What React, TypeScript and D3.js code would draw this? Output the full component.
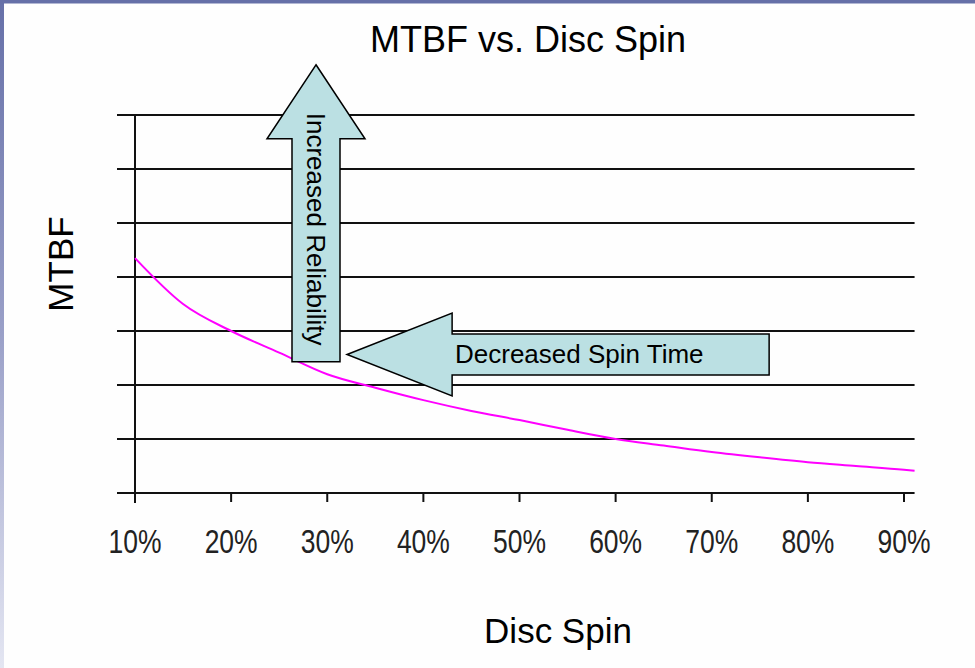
import React from "react";
import * as d3 from "d3";

// ---- data ----
const spinPct: number[] = [10, 15, 20, 25, 30, 35, 40, 45, 50, 55, 60, 65, 70, 75, 80, 85, 90, 91.1];
const mtbf: number[] = [4.35, 3.5, 3.0, 2.6, 2.2, 1.95, 1.72, 1.52, 1.35, 1.17, 1.0, 0.88, 0.76, 0.66, 0.57, 0.5, 0.43, 0.41];
const xTicks: number[] = [10, 20, 30, 40, 50, 60, 70, 80, 90];
const xTickLabels: string[] = ["10%", "20%", "30%", "40%", "50%", "60%", "70%", "80%", "90%"];
const yGrid: number[] = [0, 1, 2, 3, 4, 5, 6, 7];

const title = "MTBF vs. Disc Spin";
const xTitle = "Disc Spin";
const yTitle = "MTBF";
const upText = "Increased Reliability";
const leftText = "Decreased Spin Time";

const W = 975;
const H = 668;
const FONT = "'Liberation Sans', Arial, Helvetica, sans-serif";

export default function App() {
  const x = d3.scaleLinear().domain([10, 90]).range([135, 904]);
  const y = d3.scaleLinear().domain([0, 7]).range([493, 115]);
  const xEnd = x(91.1);
  const xLeft = 117;

  const pts: [number, number][] = spinPct.map((s, i) => [s, mtbf[i]]);
  const line = d3
    .line<[number, number]>()
    .x((d) => x(d[0]))
    .y((d) => y(d[1]))
    .curve(d3.curveMonotoneX);

  // up arrow anchored in data coordinates
  const ua = { cx: x(28.83), tip: y(7.93), head: y(6.56), bottom: y(2.43), headHalf: 49, shaftHalf: 24 };
  const upPath = [
    [ua.cx, ua.tip],
    [ua.cx + ua.headHalf, ua.head],
    [ua.cx + ua.shaftHalf, ua.head],
    [ua.cx + ua.shaftHalf, ua.bottom],
    [ua.cx - ua.shaftHalf, ua.bottom],
    [ua.cx - ua.shaftHalf, ua.head],
    [ua.cx - ua.headHalf, ua.head],
  ];
  // left arrow
  const la = { cy: y(2.565), tip: x(32.06), head: x(42.99), end: x(75.97), headHalf: 41.5, shaftHalf: 20.5 };
  const leftPath = [
    [la.tip, la.cy],
    [la.head, la.cy - la.headHalf],
    [la.head, la.cy - la.shaftHalf],
    [la.end, la.cy - la.shaftHalf],
    [la.end, la.cy + la.shaftHalf],
    [la.head, la.cy + la.shaftHalf],
    [la.head, la.cy + la.headHalf],
  ];
  const poly = (p: number[][]) => "M" + p.map((q) => q.join(",")).join("L") + "Z";

  return (
    <svg
      width={W}
      height={H}
      viewBox={`0 0 ${W} ${H}`}
      style={{ position: "absolute", left: 0, top: 0, display: "block", background: "#fefefe" }}
      fontFamily={FONT}
    >
      <defs>
        <linearGradient id="lb" x1="0" y1="0" x2="0" y2="1">
          <stop offset="0" stopColor="#6670a8" />
          <stop offset="0.5" stopColor="#9aa0c8" />
          <stop offset="1" stopColor="#e4e6f2" />
        </linearGradient>
      </defs>
      <rect x={0} y={0} width={W} height={H} fill="#fefefe" />
      <rect x={0} y={0} width={4} height={H} fill="url(#lb)" />
      <rect x={0} y={0} width={W} height={3.5} fill="#6670a8" />

      {/* title */}
      <text x={528} y={52} fontSize={36} textAnchor="middle" fill="#000">
        {title}
      </text>

      {/* gridlines */}
      {yGrid.map((g) => (
        <line key={g} x1={xLeft} x2={xEnd} y1={y(g)} y2={y(g)} stroke="#111" strokeWidth={2} />
      ))}
      {/* y axis */}
      <line x1={x(10)} x2={x(10)} y1={y(7)} y2={y(0) + 10} stroke="#111" strokeWidth={2} />
      {/* x ticks */}
      {xTicks.map((t, i) => (
        <g key={t}>
          <line x1={x(t)} x2={x(t)} y1={y(0)} y2={y(0) + 9} stroke="#111" strokeWidth={2} />
          <text
            x={x(t)}
            y={553}
            fontSize={34}
            textAnchor="middle"
            textLength={53}
            lengthAdjust="spacingAndGlyphs"
            fill="#222"
          >
            {xTickLabels[i]}
          </text>
        </g>
      ))}

      {/* curve */}
      <path d={line(pts) || ""} fill="none" stroke="#ff00ff" strokeWidth={2} />

      {/* annotations */}
      <path d={poly(upPath)} fill="#bbe0e3" stroke="#000" strokeWidth={1.5} />
      <text
        transform={`translate(${ua.cx},${ua.tip + 48}) rotate(90)`}
        fontSize={26}
        dominantBaseline="central"
        fill="#000"
      >
        {upText}
      </text>
      <path d={poly(leftPath)} fill="#bbe0e3" stroke="#000" strokeWidth={1.5} />
      <text x={455} y={363} fontSize={26} fill="#000">
        {leftText}
      </text>

      {/* axis titles */}
      <text transform={`translate(73,264) rotate(-90)`} fontSize={35} textAnchor="middle" fill="#000">
        {yTitle}
      </text>
      <text x={558} y={643} fontSize={35} textAnchor="middle" fill="#000">
        {xTitle}
      </text>
    </svg>
  );
}
